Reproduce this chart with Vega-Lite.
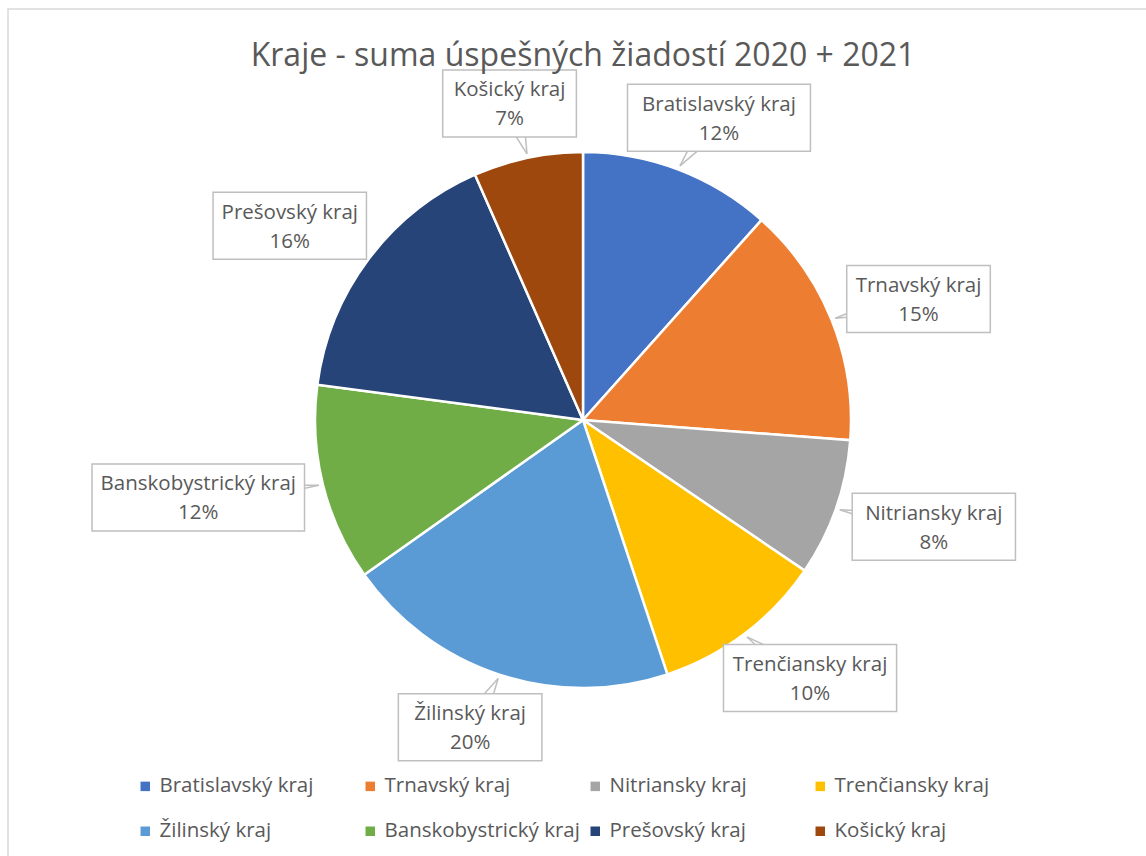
{
  "$schema": "https://vega.github.io/schema/vega-lite/v6.json",
  "autosize": "none",
  "width": 1150,
  "height": 860,
  "padding": {"left": 8, "top": 9, "right": 0, "bottom": 0},
  "background": "white",
  "config": {
    "view": {"stroke": "#d9d9d9", "strokeWidth": 1.5},
    "font": "Open Sans"
  },
  "title": {
    "text": "Kraje - suma úspešných žiadostí 2020 + 2021",
    "fontSize": 32,
    "fontWeight": "normal",
    "color": "#595959",
    "anchor": "middle",
    "frame": "group",
    "dy": 68
  },
  "data": {
    "values": [
      {"kraj": "Bratislavský kraj", "hodnota": 11.6, "poradie": 1},
      {"kraj": "Trnavský kraj", "hodnota": 14.6, "poradie": 2},
      {"kraj": "Nitriansky kraj", "hodnota": 8.3, "poradie": 3},
      {"kraj": "Trenčiansky kraj", "hodnota": 10.4, "poradie": 4},
      {"kraj": "Žilinský kraj", "hodnota": 20.3, "poradie": 5},
      {"kraj": "Banskobystrický kraj", "hodnota": 11.9, "poradie": 6},
      {"kraj": "Prešovský kraj", "hodnota": 16.3, "poradie": 7},
      {"kraj": "Košický kraj", "hodnota": 6.6, "poradie": 8}
    ]
  },
  "transform": [
    {"joinaggregate": [{"op": "sum", "field": "hodnota", "as": "spolu"}]},
    {"window": [{"op": "sum", "field": "hodnota", "as": "kum"}], "sort": [{"field": "poradie"}], "frame": [null, 0]},
    {"calculate": "2*PI*(datum.kum - datum.hodnota/2)/datum.spolu", "as": "uhol"},
    {"calculate": "[datum.kraj, format(datum.hodnota/datum.spolu, '.0%')]", "as": "riadky"},
    {"calculate": "9.85*length(datum.kraj)+15.5", "as": "sirka"},
    {"calculate": "(290 + datum.sirka/2)*sin(datum.uhol)", "as": "bx"},
    {"calculate": "(290 + 33.5)*cos(datum.uhol)", "as": "by"},
    {"calculate": "datum.bx - datum.sirka/2", "as": "bx1"},
    {"calculate": "datum.bx + datum.sirka/2", "as": "bx2"},
    {"calculate": "datum.by - 33.5", "as": "by1"},
    {"calculate": "datum.by + 33.5", "as": "by2"},
    {"calculate": "272*sin(datum.uhol)", "as": "tx"},
    {"calculate": "272*cos(datum.uhol)", "as": "ty"},
    {"calculate": "datum.bx + 13*cos(datum.uhol)", "as": "px1"},
    {"calculate": "datum.by - 13*sin(datum.uhol)", "as": "py1"},
    {"calculate": "datum.bx - 13*cos(datum.uhol)", "as": "px2"},
    {"calculate": "datum.by + 13*sin(datum.uhol)", "as": "py2"}
  ],
  "layer": [
    {
      "mark": {"type": "arc", "outerRadius": 268, "stroke": "white", "strokeWidth": 2.5},
      "encoding": {
        "x": {"datum": 0, "type": "quantitative", "scale": {"domain": [-575, 575], "nice": false, "zero": false}, "axis": null},
        "y": {"datum": 0, "type": "quantitative", "scale": {"domain": [-449, 411], "nice": false, "zero": false}, "axis": null},
        "theta": {"field": "hodnota", "type": "quantitative", "stack": true},
        "order": {"field": "poradie", "type": "quantitative"},
        "color": {
          "field": "kraj",
          "type": "nominal",
          "scale": {
            "domain": ["Bratislavský kraj", "Trnavský kraj", "Nitriansky kraj", "Trenčiansky kraj", "Žilinský kraj", "Banskobystrický kraj", "Prešovský kraj", "Košický kraj"],
            "range": ["#4472C4", "#ED7D31", "#A5A5A5", "#FFC000", "#5B9BD5", "#70AD47", "#264478", "#9E480E"]
          },
          "legend": {
            "orient": "none",
            "legendX": 127,
            "legendY": 767,
            "direction": "horizontal",
            "columns": 4,
            "gridAlign": "all",
            "title": null,
            "symbolType": "square",
            "symbolSize": 90,
            "symbolStrokeWidth": 0,
            "labelFontSize": 20.5,
            "labelColor": "#595959",
            "labelOffset": 4,
            "labelLimit": 0,
            "columnPadding": 5,
            "rowPadding": 24,
            "padding": 0
          }
        }
      }
    },
    {
      "mark": {"type": "rule", "stroke": "#bfbfbf", "strokeWidth": 1.5},
      "encoding": {
        "x": {"field": "px1", "type": "quantitative"},
        "y": {"field": "py1", "type": "quantitative"},
        "x2": {"field": "tx"},
        "y2": {"field": "ty"}
      }
    },
    {
      "mark": {"type": "rule", "stroke": "#bfbfbf", "strokeWidth": 1.5},
      "encoding": {
        "x": {"field": "px2", "type": "quantitative"},
        "y": {"field": "py2", "type": "quantitative"},
        "x2": {"field": "tx"},
        "y2": {"field": "ty"}
      }
    },
    {
      "mark": {"type": "rect", "fill": "white", "stroke": "#bfbfbf", "strokeWidth": 1.5},
      "encoding": {
        "x": {"field": "bx1", "type": "quantitative"},
        "x2": {"field": "bx2"},
        "y": {"field": "by1", "type": "quantitative"},
        "y2": {"field": "by2"}
      }
    },
    {
      "mark": {"type": "text", "fontSize": 20.5, "color": "#595959", "align": "center", "baseline": "middle", "lineHeight": 29, "dy": -13},
      "encoding": {
        "x": {"field": "bx", "type": "quantitative"},
        "y": {"field": "by", "type": "quantitative"},
        "text": {"field": "riadky"}
      }
    }
  ]
}
